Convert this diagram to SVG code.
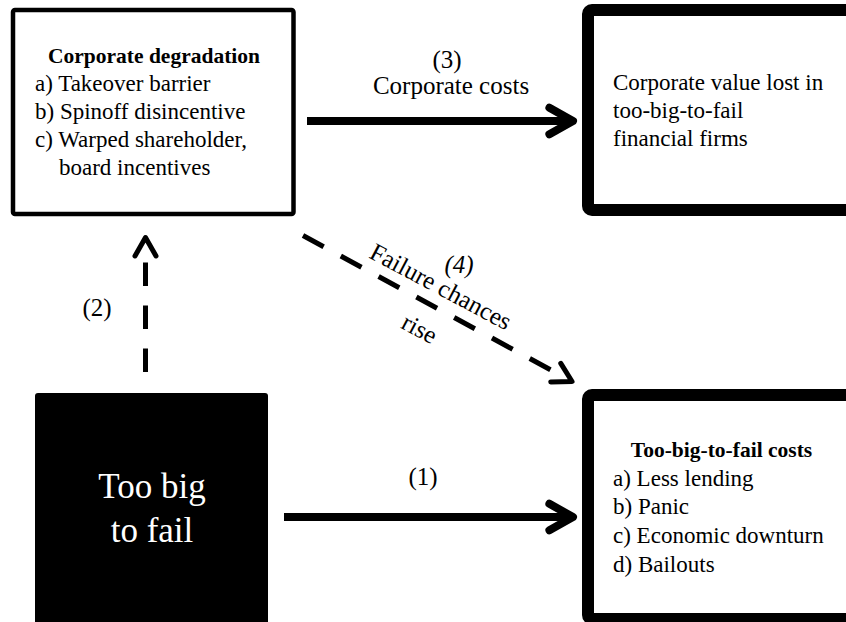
<svg xmlns="http://www.w3.org/2000/svg" width="846" height="622" viewBox="0 0 846 622">
<style>
  text { font-family: "Liberation Serif", "Times New Roman", serif; fill: #000; }
  .body { font-size: 23px; }
  .title { font-size: 21.5px; font-weight: bold; }
  .lbl { font-size: 25px; }
  .big { font-size: 35px; fill: #fff; }
  .thin { fill: #fff; stroke: #000; stroke-width: 4.5; }
  .thick { fill: #fff; stroke: #000; stroke-width: 12; }
  .solid { fill: none; stroke: #000; stroke-width: 8; marker-end: url(#hs); }
  .dash { fill: none; stroke: #000; stroke-width: 5; stroke-dasharray: 23.5 19.5; marker-end: url(#hd); }
  .head { fill: none; stroke: #000; stroke-width: 1; stroke-linecap: round; stroke-linejoin: round; stroke-dasharray: none; }
</style>
<defs>
  <marker id="hs" markerUnits="strokeWidth" orient="auto" overflow="visible" markerWidth="1" markerHeight="1" refX="0" refY="0">
    <path class="head" d="M-2.95,-1.65 L0,0 L-2.95,1.65"/>
  </marker>
  <marker id="hd" markerUnits="strokeWidth" orient="auto" overflow="visible" markerWidth="1" markerHeight="1" refX="0" refY="0">
    <path class="head" d="M1.2,-2.1 L4.9,0 L1.2,2.1"/>
  </marker>
</defs>
<rect width="846" height="622" fill="#fff"/>

<g id="connectors">
  <path class="solid" d="M307,121 L573,121"/>
  <path class="solid" d="M284,517 L573,517"/>
  <path class="dash" d="M145.5,372 L145.5,262"/>
  <path class="dash" d="M303,235.5 L550.5,369.8"/>
  <text class="lbl" x="447" y="67.5" text-anchor="middle">(3)</text>
  <text class="lbl" x="451" y="94" text-anchor="middle">Corporate costs</text>
  <text class="lbl" x="423" y="485" text-anchor="middle">(1)</text>
  <text class="lbl" x="97" y="316" text-anchor="middle">(2)</text>
  <text class="lbl" x="459" y="273" text-anchor="middle" font-style="italic">(4)</text>
  <text class="lbl" transform="translate(437,294) rotate(28)" text-anchor="middle">Failure chances</text>
  <text class="lbl" transform="translate(415.7,336) rotate(28)" text-anchor="middle">rise</text>
</g>

<g id="corporate-degradation">
  <rect class="thin" x="13" y="10" width="280.5" height="204" rx="2"/>
  <text class="title" x="154" y="62.5" text-anchor="middle">Corporate degradation</text>
  <text class="body" x="35" y="90.5">a) Takeover barrier</text>
  <text class="body" x="35" y="118.5">b) Spinoff disincentive</text>
  <text class="body" x="35" y="146.5">c) Warped shareholder,</text>
  <text class="body" x="59" y="174.5">board incentives</text>
</g>

<g id="corporate-value-lost">
  <rect class="thick" x="588" y="10" width="300" height="200" rx="4"/>
  <text class="body" x="613" y="89.5">Corporate value lost in</text>
  <text class="body" x="613" y="117.5">too-big-to-fail</text>
  <text class="body" x="613" y="145.5">financial firms</text>
</g>

<g id="too-big-to-fail">
  <rect x="35" y="393" width="233" height="260" rx="3" fill="#000"/>
  <text class="big" x="152" y="497.5" text-anchor="middle">Too big</text>
  <text class="big" x="152" y="541.5" text-anchor="middle">to fail</text>
</g>

<g id="tbtf-costs">
  <rect class="thick" x="588" y="395" width="300" height="224" rx="4"/>
  <text class="title" x="721.5" y="457" text-anchor="middle">Too-big-to-fail costs</text>
  <text class="body" x="613" y="485.5">a) Less lending</text>
  <text class="body" x="613" y="514">b) Panic</text>
  <text class="body" x="613" y="543">c) Economic downturn</text>
  <text class="body" x="613" y="572">d) Bailouts</text>
</g>
</svg>
